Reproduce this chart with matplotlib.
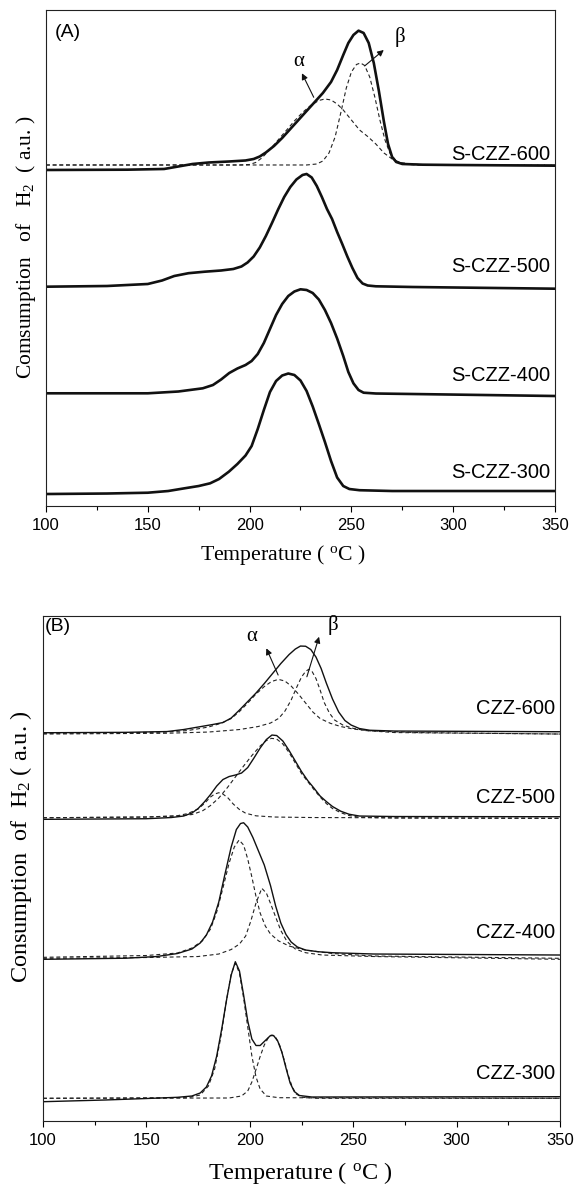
import matplotlib
matplotlib.use("Agg")
import matplotlib.pyplot as plt
from matplotlib.ticker import MultipleLocator

plt.rcParams["font.family"] = ["Liberation Sans", "DejaVu Sans"]
plt.rcParams["mathtext.fontset"] = "custom"
plt.rcParams["mathtext.rm"] = "Liberation Serif"
plt.rcParams["mathtext.it"] = "Liberation Serif:italic"

SERIF = ["Liberation Serif", "DejaVu Serif"]

# ---------------- panel A : S-CZZ samples (stacked traces, arbitrary units) ----------------
sczz600_t = [100, 140, 158, 165, 172, 180, 190, 198, 202, 205, 208, 212, 216, 220, 224, 228, 232,
             236, 240, 243, 246, 248.5, 251, 253.5, 256, 258.5, 261, 263.5, 266, 268, 270, 272,
             275, 285, 300, 350]
sczz600_y = [336, 336.3, 337, 339.5, 342, 343.5, 344.5, 345.5, 347, 349.5, 353.5, 360, 368, 377,
             386, 395, 404, 413, 424, 436, 451, 463, 471, 475.3, 473, 463, 443, 415, 384, 362,
             349, 344, 342, 341.3, 341, 340.3]
sczz600_alpha_t = [100, 195, 200, 203, 206, 210, 214, 218, 222, 226, 230, 234, 237, 240, 243, 246,
                   250, 254, 258, 262, 266, 270, 274, 280, 290, 350]
sczz600_alpha_y = [341, 341, 341.5, 343.5, 348, 356.5, 366, 375.5, 385, 393.5, 400.5, 405.5, 407,
                   406, 402, 396, 386, 376, 369.5, 362, 353, 347, 343.5, 341.8, 341, 341]
sczz600_beta_t = [100, 228, 233, 236, 239, 242, 245, 247.5, 250, 252.5, 254.5, 256.5, 259, 261.5,
                  264, 266.5, 269, 272, 276, 282, 350]
sczz600_beta_y = [341, 341, 342, 345, 353, 369, 395, 418, 434, 441.5, 443, 440.5, 429, 409, 386,
                  366, 352.5, 345, 341.8, 341, 341]

sczz500_t = [100, 130, 150, 157, 163, 170, 178, 186, 192, 196, 199, 202, 205, 208, 211, 214, 217,
             220, 223, 226, 228, 230.5, 233, 235.5, 238, 240.5, 243, 245.5, 248, 250.5, 253,
             255.5, 258, 262, 280, 350]
sczz500_y = [219.3, 220, 222, 225.5, 230, 232.8, 234.3, 235.5, 237, 239.5, 243.5, 249.5, 258.5,
             270, 283, 296.5, 309, 319, 326.5, 331, 332, 328.5, 320, 309, 297, 287, 274, 262,
             249.5, 238, 228, 222.5, 220.5, 219.7, 219, 217.3]

sczz400_t = [100, 150, 165, 177, 182, 186, 190, 194, 198, 201, 204, 207, 210, 213, 216, 219, 222,
             225, 228, 231, 234, 237, 240, 243, 246, 248.5, 251, 253.5, 256, 262, 280, 350]
sczz400_y = [112.7, 112.7, 114.5, 117.7, 121, 126.5, 133, 137.5, 141, 145, 152, 163, 177, 191,
             202, 210, 214.5, 216.7, 216, 213, 206.5, 196, 183, 167.5, 150, 134, 122.7, 116,
             113.3, 112.5, 112, 110]

sczz300_t = [100, 130, 150, 160, 168, 175, 180.6, 185, 189.8, 194, 198, 201, 204, 207, 210, 213,
             216, 219, 222, 225, 228, 231, 234, 237, 240, 243, 246, 249, 254, 270, 350]
sczz300_y = [12, 12.5, 13.3, 15, 17.7, 20, 22.7, 27, 34.3, 42, 50.5, 60, 77, 96, 114, 125, 130.5,
             132.5, 131, 125.5, 115, 99.5, 82, 64, 45, 28.5, 20, 17, 15.8, 15, 15]

# ---------------- panel B : CZZ samples with alpha / beta components ----------------
czz600_t = [100, 140, 160, 168, 175, 182, 187, 191, 195, 199, 203, 207, 211, 215, 219, 222, 224.5,
            227, 229.5, 232, 234.5, 237, 240, 243, 246, 249, 253, 258, 270, 350]
czz600_y = [388.3, 388.7, 389.5, 391.5, 394, 396.5, 398.5, 403, 411, 419.5, 428, 437.5, 447.5,
            457.5, 466.5, 472, 475, 474.8, 471.5, 464, 452.5, 438, 422, 409, 400.5, 396, 392.5,
            390.8, 390, 389.3]
czz600_alpha_t = [100, 140, 160, 170, 180, 186, 191, 195, 199, 203, 207, 210.5, 213.8, 217, 220,
                  223.5, 227, 230.5, 234, 239, 244, 250, 258, 280, 350]
czz600_alpha_y = [387.7, 388.3, 389, 390.5, 394, 397.7, 402.5, 409.5, 418, 427, 434.5, 439.5,
                  441.7, 440, 435, 427, 418, 409, 402.5, 397.7, 394.5, 392, 390.2, 388.5, 387]
czz600_beta_t = [100, 160, 180, 195, 204, 210, 214, 217, 220, 222.5, 225, 227, 228.5, 230, 232,
                 234, 236, 238.5, 241, 245, 250, 256, 270, 350]
czz600_beta_y = [387, 387.8, 389, 391.5, 394.5, 398, 402.7, 410, 421, 433, 444, 449.7, 451.7,
                 450, 442.5, 431, 418.5, 408, 401, 396, 392.7, 390.5, 388.5, 387]

czz500_t = [100, 150, 162, 168, 172, 175, 178, 181, 184, 187, 190, 193, 196, 199, 202, 205, 208,
            210.7, 213, 216, 219, 222, 225, 228, 231, 234, 237, 240, 244, 248, 253, 270, 350]
czz500_y = [301.7, 302.3, 303.5, 305, 308, 312.5, 319, 326.5, 335, 341.5, 344.5, 346, 348, 353.5,
            363, 373, 381.5, 386, 385.5, 380, 370.5, 360, 349.5, 340.5, 333, 325, 319.5, 314.5,
            309.8, 306.8, 305, 304.5, 304.3]
czz500_alpha_t = [100, 150, 165, 170, 175, 178, 181, 183, 185, 187, 189.5, 192, 195, 198, 203,
                  212, 230, 350]
czz500_alpha_y = [303.3, 304, 305.3, 307.5, 312, 317.5, 324, 327, 328.3, 327, 323, 317, 311.5,
                  307.8, 305.2, 304, 303.5, 302.7]
czz500_beta_t = [100, 150, 165, 172, 177, 181, 185, 189, 193, 197, 201, 205, 208, 210.5, 213, 216,
                 219, 222, 225, 228, 231, 234, 237, 240, 244, 248, 253, 270, 350]
czz500_beta_y = [303.3, 304, 305, 306.5, 310, 315.5, 323, 333, 344, 355, 365.5, 375, 380.5, 382.7,
                 382, 377, 368.5, 358, 347.5, 339.5, 331.5, 324, 317.5, 312.5, 308.3, 305.5,
                 303.8, 303, 302.7]

czz400_t = [100, 140, 155, 165, 172, 176, 179, 182, 185, 188, 191, 193.5, 195.5, 197, 199, 201.5,
            204, 207, 210, 212.5, 215, 217.5, 220, 223, 227, 233, 240, 260, 350]
czz400_y = [161.7, 162.8, 164.5, 167.5, 172, 178, 186, 199, 219, 247, 274, 291.5, 297.5, 298.3,
            294, 283.5, 271, 256, 235.5, 215, 198, 186.5, 179, 174, 171, 169.3, 168.3, 167, 166]
czz400_alpha_t = [100, 150, 165, 172, 177, 181, 184, 187, 190, 192.5, 194.8, 197, 199, 201, 203,
                  205, 207.5, 210, 214, 219, 226.7, 240, 260, 350]
czz400_alpha_y = [163.7, 165.5, 168, 173, 180, 192, 209, 233, 258, 274, 281, 276, 262, 244, 224.5,
                  208, 195, 187, 180, 175, 171, 167.5, 165, 162.7]
czz400_beta_t = [100, 150, 175, 185, 191, 195, 198, 200.5, 203, 205.8, 208, 210, 212.5, 215, 218,
                 222, 227, 235, 260, 350]
czz400_beta_y = [162.7, 163.5, 164.5, 167, 171.5, 177, 185, 200, 218, 232.7, 228, 217.7, 204,
                 190.5, 179.5, 172, 168.3, 166, 164.5, 161.7]

czz300_t = [100, 130, 150, 165, 172, 176, 179, 181.5, 184, 186.5, 189, 191, 193, 195, 197, 199,
            201, 203, 205, 207.5, 210, 211.5, 213.5, 215.5, 217.5, 219.5, 221.5, 224, 230, 350]
czz300_y = [19.3, 21, 22.5, 23.7, 25, 28, 34, 45, 65, 93, 124, 146, 159.3, 150, 126, 100, 82,
            75.5, 75.5, 80.5, 85.5, 85.5, 80, 69, 53, 38, 29.5, 25.5, 24, 24.3]
czz300_alpha_t = [100, 170, 176, 180, 183, 186, 188.5, 191, 193, 195, 197, 199, 201, 203, 205,
                  208, 214, 350]
czz300_alpha_y = [22.7, 23.3, 26, 35, 52, 84, 118, 147, 157.7, 148, 123, 94, 65, 44, 32, 25,
                  23.3, 22.7]
czz300_beta_t = [100, 190, 196, 199, 201, 203, 205, 207, 209, 210.7, 212.5, 214.5, 216.5, 218.5,
                 220.5, 222.5, 225, 232, 350]
czz300_beta_y = [22.7, 23, 25, 30, 39, 51.5, 64.5, 76, 83.5, 86, 84, 75.5, 62, 46.5, 34, 27,
                 23.8, 22.7, 22.7]

labels_a = ["S-CZZ-600", "S-CZZ-500", "S-CZZ-400", "S-CZZ-300"]
label_y_a = [351, 239, 131, 34]
labels_b = ["CZZ-600", "CZZ-500", "CZZ-400", "CZZ-300"]
label_y_b = [413, 324, 189, 48]

fig = plt.figure(figsize=(5.75, 11.87), dpi=100)
ax_a = fig.add_axes([0.0800, 0.5737, 0.8852, 0.4179])
ax_b = fig.add_axes([0.0748, 0.0556, 0.8991, 0.4254])

DASH = dict(color="#222222", lw=0.8, ls=(0, (3.5, 2.5)))

# panel A
ax_a.plot(sczz600_alpha_t, sczz600_alpha_y, **DASH)
ax_a.plot(sczz600_beta_t, sczz600_beta_y, **DASH)
for t, y in [(sczz600_t, sczz600_y), (sczz500_t, sczz500_y),
             (sczz400_t, sczz400_y), (sczz300_t, sczz300_y)]:
    ax_a.plot(t, y, color="#111111", lw=1.9, solid_joinstyle="round")
ax_a.set_ylim(0, 496)

# panel B
for t, y in [(czz600_alpha_t, czz600_alpha_y), (czz600_beta_t, czz600_beta_y),
             (czz500_alpha_t, czz500_alpha_y), (czz500_beta_t, czz500_beta_y),
             (czz400_alpha_t, czz400_alpha_y), (czz400_beta_t, czz400_beta_y),
             (czz300_alpha_t, czz300_alpha_y), (czz300_beta_t, czz300_beta_y)]:
    ax_b.plot(t, y, **DASH)
for t, y in [(czz600_t, czz600_y), (czz500_t, czz500_y),
             (czz400_t, czz400_y), (czz300_t, czz300_y)]:
    ax_b.plot(t, y, color="#111111", lw=1.0, solid_joinstyle="round")
ax_b.set_ylim(0, 505)

for ax in (ax_a, ax_b):
    ax.set_xlim(100, 350)
    ax.xaxis.set_major_locator(MultipleLocator(50))
    ax.xaxis.set_minor_locator(MultipleLocator(25))
    ax.tick_params(axis="x", which="major", direction="out", length=4.3, width=0.8,
                   labelsize=12, pad=4.5, top=False)
    ax.tick_params(axis="x", which="minor", direction="out", length=2.9, width=0.8, top=False)
    ax.tick_params(axis="y", which="both", left=False, right=False, labelleft=False)
    for s in ax.spines.values():
        s.set_linewidth(0.8)
        s.set_color("#222222")

for name, y in zip(labels_a, label_y_a):
    ax_a.text(0.99, y, name, transform=ax_a.get_yaxis_transform(), ha="right", va="center",
              fontsize=14.5)
for name, y in zip(labels_b, label_y_b):
    ax_b.text(0.99, y, name, transform=ax_b.get_yaxis_transform(), ha="right", va="center",
              fontsize=14.5)

ax_a.text(0.018, 0.955, "(A)", transform=ax_a.transAxes, ha="left", va="center", fontsize=14)
ax_b.text(0.004, 0.979, "(B)", transform=ax_b.transAxes, ha="left", va="center", fontsize=14)

# peak labels and arrows
arrow = dict(arrowstyle="-|>", color="#111111", lw=0.8, mutation_scale=9, shrinkA=0, shrinkB=0)
ax_a.annotate("", xy=(225.7, 432.7), xytext=(231.5, 408.7), arrowprops=arrow)
ax_a.annotate("", xy=(265.9, 456), xytext=(256.5, 440), arrowprops=arrow)
ax_a.text(223.9, 444, "\u03b1", family=SERIF, fontsize=15, ha="center", va="center")
ax_a.text(273.7, 469.3, "\u03b2", family=SERIF, fontsize=15, ha="center", va="center")
ax_b.annotate("", xy=(208, 472.7), xytext=(213.7, 446), arrowprops=arrow)
ax_b.annotate("", xy=(233.5, 484.3), xytext=(227.6, 444.3), arrowprops=arrow)
ax_b.text(201, 484.3, "\u03b1", family=SERIF, fontsize=15, ha="center", va="center")
ax_b.text(240.1, 496, "\u03b2", family=SERIF, fontsize=15, ha="center", va="center")

fig.text(0.492, 0.5324, "Temperature ( $^{\\mathrm{o}}$C )", family=SERIF, fontsize=15.7,
         ha="center", va="center")
fig.text(0.523, 0.0118, "Temperature ( $^{\\mathrm{o}}$C )", family=SERIF, fontsize=17.5,
         ha="center", va="center")
fig.text(0.045, 0.7915, "Comsumption   of   H$_2$  ( a.u. )", family=SERIF, fontsize=15.5,
         rotation=90, ha="center", va="center")
fig.text(0.037, 0.2869, "Consumption  of  H$_2$ ( a.u. )", family=SERIF, fontsize=17.5,
         rotation=90, ha="center", va="center")

fig.savefig("out.png", dpi=100)
